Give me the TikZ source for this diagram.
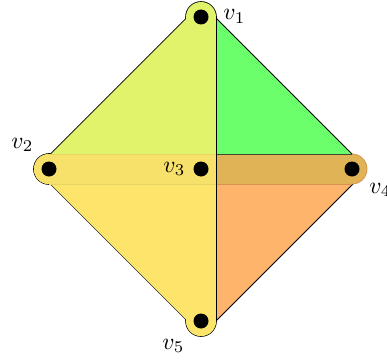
\documentclass[tikz,border=0pt]{standalone}
\definecolor{limec}{RGB}{224,243,107}
\definecolor{greenc}{RGB}{108,255,108}
\definecolor{yellowc}{RGB}{253,228,106}
\definecolor{orangec}{RGB}{255,180,108}
\definecolor{bandL}{RGB}{248,225,106}
\definecolor{bandR}{RGB}{224,180,86}
\definecolor{bandLline}{RGB}{232,214,100}
\definecolor{bandRline}{RGB}{215,148,80}
\definecolor{topline}{RGB}{70,70,50}
\begin{document}
\begin{tikzpicture}[x=1pt,y=-1pt,
  dot/.style={circle,fill=black,minimum size=15pt,inner sep=0pt},
  lbl/.style={inner sep=0pt,scale=2.35,anchor=base west},
  outl/.style={draw=black,line width=1.6pt},
  thin/.style={line width=0.8pt}]
\useasboundingbox (0,0) rectangle (387,361);
\coordinate (v1) at (201,17);
\coordinate (v2) at (49,169);
\coordinate (v3) at (201,169);
\coordinate (v4) at (352,169);
\coordinate (v5) at (201,321);
% green region
\fill[greenc] (216,18) -- (359,161) -- (359,169) -- (216,169) -- cycle;
\draw[thin] (216,18) -- (355,157);
% orange region
\fill[orangec] (216,321) -- (216,169) -- (360,169) -- (360,177) -- cycle;
\draw[thin] (216,321) -- (356,181);
% left region outline
\draw[outl] (216,17) -- (188,17) -- (36,169) -- (188,321) -- (216,321) -- cycle;
\draw[outl] (v1) circle[radius=15];
\draw[outl] (v2) circle[radius=15];
\draw[outl] (v5) circle[radius=15];
% left region fill
\fill[limec] (216,17) -- (188,17) -- (36,169) -- (188,321) -- (216,321) -- cycle;
\fill[limec] (v1) circle[radius=15] (v2) circle[radius=15] (v5) circle[radius=15];
\begin{scope}
\clip (0,169) rectangle (216,361);
\fill[yellowc] (216,17) -- (188,17) -- (36,169) -- (188,321) -- (216,321) -- cycle;
\fill[yellowc] (v2) circle[radius=15] (v5) circle[radius=15];
\end{scope}
% band
\fill[bandL] (49,154) rectangle (216,184);
\fill[bandL] (v2) circle[radius=15];
\draw[bandLline,line width=0.6pt] (49,154) -- (216,154) (49,184) -- (216,184);
\fill[bandR] (216,154) rectangle (352,184);
\fill[bandR] (v4) circle[radius=15];
\draw[bandRline,thin] (352,154) arc[start angle=-90,end angle=90,radius=15];
\draw[bandRline,thin] (216,184) -- (352,184);
\draw[topline,thin] (216,154.5) -- (352,154.5);
% vertical separator
\draw[thin] (216,17) -- (216,321);
% vertices
\node[dot] (n1) at (v1) {};
\node[dot] (n2) at (v2) {};
\node[dot] (n3) at (v3) {};
\node[dot] (n4) at (v4) {};
\node[dot] (n5) at (v5) {};
% labels
\node[lbl] (l1) at (223,20) {$v_1$};
\node[lbl] (l2) at (11,148) {$v_2$};
\node[lbl] (l3) at (163,172) {$v_3$};
\node[lbl] (l4) at (369,193) {$v_4$};
\node[lbl] (l5) at (162,349) {$v_5$};
\end{tikzpicture}
\end{document}
